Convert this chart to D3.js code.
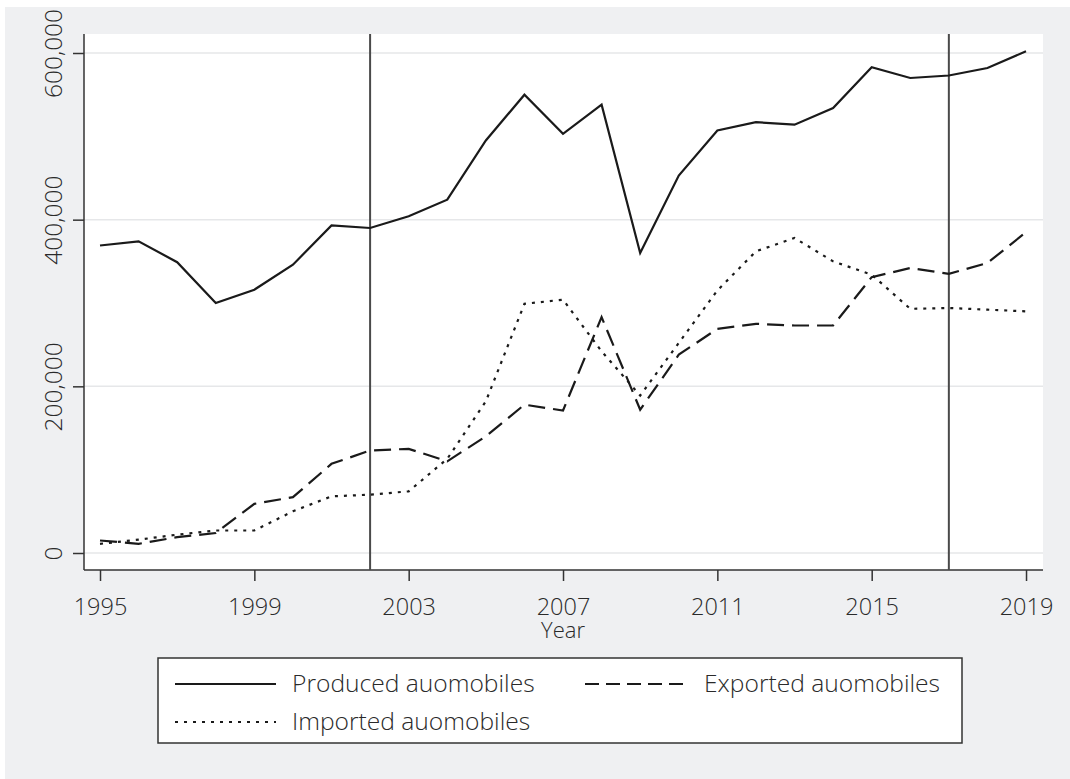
<!DOCTYPE html>
<html>
<head>
<meta charset="utf-8">
<script src="https://cdn.jsdelivr.net/npm/d3@7"></script>
<style>
  body { margin: 0; background: #fff; }
  text { font-family: "Open Sans", sans-serif; font-weight: 300; fill: #2a2a2a; }
</style>
</head>
<body>
<script>
// data
const years = d3.range(1995, 2020);
const produced = [369000, 374000, 349000, 300000, 316000, 346000, 393000, 390000, 404000, 424000,
  495000, 550000, 503000, 538000, 360000, 453000, 507000, 517000, 514000, 534000,
  583000, 570000, 573000, 582000, 602000];
const exported = [15000, 11000, 19000, 24000, 59000, 67000, 107000, 123000, 125000, 110000,
  140000, 178000, 171000, 283000, 172000, 238000, 269000, 275000, 273000, 273000,
  331000, 342000, 335000, 348000, 385000];
const imported = [11000, 16000, 22000, 27000, 27000, 50000, 68000, 70000, 74000, 113000,
  182000, 299000, 304000, 242000, 189000, 252000, 315000, 362000, 378000, 350000,
  334000, 293000, 294000, 292000, 290000];
const yTicks = [0, 200000, 400000, 600000];
const xTicks = [1995, 1999, 2003, 2007, 2011, 2015, 2019];
const markerYears = [2002, 2017];
const seriesNames = ["Produced auomobiles", "Exported auomobiles", "Imported auomobiles"];

const W = 1070, H = 779;
const PLOT = { L: 84, R: 1043, T: 34, B: 570 };
const styles = [
  { dash: null },
  { dash: "17,8" },
  { dash: "3,6" }
];

const svg = d3.select("body").append("svg").attr("width", W).attr("height", H);

svg.append("rect").attr("x", 5).attr("y", 7).attr("width", W - 5).attr("height", H - 7)
  .attr("fill", "#eff0f2");
svg.append("rect").attr("x", PLOT.L).attr("y", PLOT.T)
  .attr("width", PLOT.R - PLOT.L).attr("height", PLOT.B - PLOT.T).attr("fill", "#fff");

const x = d3.scaleLinear().domain([1994.585, 2019.44]).range([PLOT.L, PLOT.R]);
const y = d3.scaleLinear().domain([-20400, 622800]).range([PLOT.B, PLOT.T]);

// gridlines
svg.append("g").selectAll("line").data(yTicks).join("line")
  .attr("x1", PLOT.L).attr("x2", PLOT.R)
  .attr("y1", d => y(d)).attr("y2", d => y(d))
  .attr("stroke", "#e6e7e9").attr("stroke-width", 1.5);

// axes
const yAxis = svg.append("g").attr("transform", `translate(${PLOT.L},0)`)
  .call(d3.axisLeft(y).tickValues(yTicks).tickSize(11).tickSizeOuter(0).tickFormat(d3.format(",")));
yAxis.select(".domain").attr("stroke", "#333").attr("stroke-width", 1.5)
  .attr("d", `M0,${PLOT.T}V${PLOT.B}`);
yAxis.selectAll(".tick line").attr("stroke", "#333").attr("stroke-width", 1.5);
yAxis.selectAll(".tick text")
  .attr("x", null).attr("dy", null).attr("fill", "#2a2a2a")
  .attr("text-anchor", "middle")
  .attr("transform", "translate(-22,0) rotate(-90)")
  .style("font-size", "24.5px");

const xAxis = svg.append("g").attr("transform", `translate(0,${PLOT.B})`)
  .call(d3.axisBottom(x).tickValues(xTicks).tickSize(11).tickSizeOuter(0).tickFormat(d3.format("d")));
xAxis.select(".domain").attr("stroke", "#333").attr("stroke-width", 1.5)
  .attr("d", `M${PLOT.L},0H${PLOT.R}`);
xAxis.selectAll(".tick line").attr("stroke", "#333").attr("stroke-width", 1.5);
xAxis.selectAll(".tick text").attr("y", 45).attr("dy", null).attr("fill", "#2a2a2a")
  .style("font-size", "23.5px");

svg.append("text").attr("x", x(2007)).attr("y", 638).attr("text-anchor", "middle")
  .style("font-size", "22px").text("Year");

// vertical reference lines
svg.append("g").selectAll("line").data(markerYears).join("line")
  .attr("x1", d => x(d)).attr("x2", d => x(d))
  .attr("y1", PLOT.T).attr("y2", PLOT.B)
  .attr("stroke", "#4a4a4a").attr("stroke-width", 2);

// series lines
const line = d3.line().x((d, i) => x(years[i])).y(d => y(d));
[produced, exported, imported].forEach((vals, k) => {
  svg.append("path").datum(vals).attr("d", line)
    .attr("fill", "none").attr("stroke", "#1a1a1a").attr("stroke-width", 2.2)
    .attr("stroke-linejoin", "miter")
    .attr("stroke-dasharray", styles[k].dash);
});

// legend
const legend = svg.append("g");
legend.append("rect").attr("x", 158).attr("y", 658).attr("width", 804).attr("height", 85)
  .attr("fill", "#fff").attr("stroke", "#333").attr("stroke-width", 1.5);
const legendPos = [
  { sx: 175, tx: 292, y: 684 },
  { sx: 585, tx: 704, y: 684 },
  { sx: 175, tx: 292, y: 722 }
];
legendPos.forEach((p, k) => {
  legend.append("line").attr("x1", p.sx).attr("x2", p.sx + 101)
    .attr("y1", p.y).attr("y2", p.y)
    .attr("stroke", "#1a1a1a").attr("stroke-width", 2.2)
    .attr("stroke-dasharray", k === 1 ? "14,7" : styles[k].dash);
  legend.append("text").attr("x", p.tx).attr("y", p.y + 8)
    .style("font-size", "24.6px").text(seriesNames[k]);
});
</script>
</body>
</html>
